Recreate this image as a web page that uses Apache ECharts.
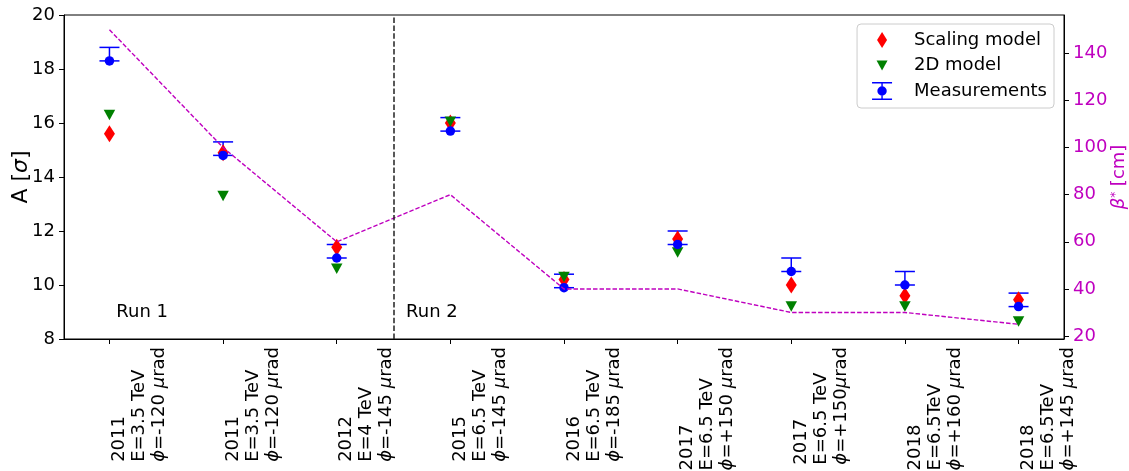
<!DOCTYPE html>
<html>
<head>
<meta charset="utf-8">
<script src="https://cdn.jsdelivr.net/npm/echarts@6/dist/echarts.min.js"></script>
<style>
html,body{margin:0;padding:0;background:#fff;}
#chart{width:1129px;height:471px;}
</style>
</head>
<body>
<div id="chart"></div>
<script>
// ---- data ----
var labelYear   = ['2011','2011','2012','2015','2016','2017','2017','2018','2018'];
var labelEnergy = ['E=3.5 TeV','E=3.5 TeV','E=4 TeV','E=6.5 TeV','E=6.5 TeV','E=6.5 TeV','E=6.5 TeV','E=6.5TeV','E=6.5TeV'];
var labelAngle  = ['=-120 ','=-120 ','=-145 ','=-145 ','=-185 ','=+150 ','=+150','=+160 ','=+145 '];
var scalingModel = [15.6, 14.9, 11.4, 16.0, 10.2, 11.7, 10.0, 9.6, 9.45];
var model2D      = [16.3, 13.3, 10.6, 16.05, 10.3, 11.2, 9.2, 9.2, 8.65];
var measurements = [18.3, 14.8, 11.0, 15.7, 9.9, 11.5, 10.5, 10.0, 9.2];
var errUp        = [0.5, 0.5, 0.5, 0.5, 0.5, 0.5, 0.5, 0.5, 0.5];
var errDown      = [0, 0, 0, 0, 0, 0, 0, 0, 0];
var betaStar     = [150, 100, 60, 80, 40, 40, 30, 30, 25];
var leftTicks    = [8, 10, 12, 14, 16, 18, 20];
var rightTicks   = [20, 40, 60, 80, 100, 120, 140];
var runSplit     = 2.5;
var runLabels    = [['Run 1', 0.06, 9.0], ['Run 2', 2.61, 9.0]];

var FONT = 'DejaVu Sans';
var MAG = '#bf00bf';
var idx = labelYear.map(function (_, i) { return i; });
function pairs(arr) { return arr.map(function (v, i) { return [i, v]; }); }

var tri = 'path://M0,0 L10,0 L5,10 Z';
var legDiamond = 'path://M0,0 M37,18 M10,1 L15,9 L10,17 L5,9 Z';
var legTri = 'path://M0,0 M37,18 M4.5,4 L15.5,4 L10,14 Z';
var legMeas = 'path://M0,0 M37,18 M0,0 L20,0 L20,1.5 L0,1.5 Z M0,16.5 L20,16.5 L20,18 L0,18 Z M9.3,1.5 L10.7,1.5 L10.7,16.5 L9.3,16.5 Z M14.7,9 A4.7,4.7 0 1,1 5.3,9 A4.7,4.7 0 1,1 14.7,9 Z';

var chart = echarts.init(document.getElementById('chart'), null, {renderer: 'canvas'});
var option = {
  animation: false,
  backgroundColor: '#fff',
  textStyle: {fontFamily: FONT},
  grid: {left: 64, right: 65, top: 15, bottom: 132, outerBoundsMode: 'none', containLabel: false,
         show: true, borderColor: '#000', borderWidth: 1, backgroundColor: 'transparent'},
  legend: {
    orient: 'vertical', right: 75, top: 24,
    padding: [7, 7, 8, 15],
    itemWidth: 37, itemHeight: 18, itemGap: 7.5,
    backgroundColor: 'rgba(255,255,255,0.8)', borderColor: '#cccccc', borderWidth: 1, borderRadius: 4,
    textStyle: {fontFamily: FONT, fontSize: 18, color: '#000', lineHeight: 18},
    data: [
      {name: 'Scaling model', icon: legDiamond},
      {name: '2D model', icon: legTri},
      {name: 'Measurements', icon: legMeas}
    ],
    selectedMode: false
  },
  xAxis: {
    type: 'value', min: -0.4, max: 8.4,
    splitLine: {show: false},
    axisLine: {show: true, onZero: false, lineStyle: {color: '#000', width: 1}},
    axisTick: {show: true, length: 5, lineStyle: {color: '#000'}, customValues: idx},
    axisLabel: {
      show: true, rotate: 90, margin: 8, align: 'right', verticalAlign: 'top',
      customValues: idx,
      formatter: function (v) {
        var i = Math.round(v);
        var ang = labelAngle[i];
        return '{t|' + labelYear[i] + '}\n{t|' + labelEnergy[i] + '}\n{i|\u03d5}{t|' + ang + '}{i|\u03bc}{t|rad}';
      },
      rich: {
        t: {fontFamily: FONT, fontSize: 18, color: '#000', align: 'left', lineHeight: 20},
        i: {fontFamily: FONT, fontSize: 18, color: '#000', fontStyle: 'italic', align: 'left', lineHeight: 20}
      }
    }
  },
  yAxis: [{
    type: 'value', min: 8, max: 20, interval: 2, position: 'left',
    splitLine: {show: false},
    axisLine: {show: true, onZero: false, lineStyle: {color: '#000'}},
    axisTick: {show: true, length: 5, lineStyle: {color: '#000'}},
    axisLabel: {fontFamily: FONT, fontSize: 18, color: '#000', margin: 9},
    name: 'A [{i|\u03c3}]', nameLocation: 'middle', nameRotate: 90, nameGap: 32, nameMoveOverlap: false,
    nameTextStyle: {fontFamily: FONT, fontSize: 22, color: '#000',
      rich: {i: {fontFamily: FONT, fontSize: 22, fontStyle: 'italic', color: '#000'}}}
  }, {
    type: 'value', min: 18.75, max: 156.25, position: 'right',
    splitLine: {show: false},
    axisLine: {show: true, onZero: false, lineStyle: {color: '#000'}},
    axisTick: {show: true, length: 5, lineStyle: {color: '#000'}, customValues: rightTicks},
    axisLabel: {fontFamily: FONT, fontSize: 18, color: MAG, margin: 9, customValues: rightTicks},
    name: '{i|\u03b2}{s|*} [cm]', nameLocation: 'middle', nameRotate: 90, nameGap: 46, nameMoveOverlap: false,
    nameTextStyle: {fontFamily: FONT, fontSize: 18, color: MAG,
      rich: {i: {fontFamily: FONT, fontSize: 18, fontStyle: 'italic', color: MAG},
             s: {fontFamily: FONT, fontSize: 12, color: MAG, verticalAlign: 'top'}}}
  }],
  series: [
    {name: 'Scaling model', type: 'scatter', symbol: 'diamond', symbolSize: [11, 17],
     itemStyle: {color: '#ff0000', opacity: 1}, data: pairs(scalingModel)},
    {name: '2D model', type: 'scatter', symbol: tri, symbolSize: [11.5, 10.5],
     itemStyle: {color: '#008000', opacity: 1}, data: pairs(model2D)},
    {name: 'errbars', type: 'custom',
     data: measurements.map(function (v, i) { return [i, v - errDown[i], v + errUp[i]]; }),
     renderItem: function (params, api) {
       var lo = api.coord([api.value(0), api.value(1)]);
       var hi = api.coord([api.value(0), api.value(2)]);
       var w = 10;
       var st = {stroke: '#0000ff', lineWidth: 1.5};
       return {type: 'group', children: [
         {type: 'line', shape: {x1: lo[0], y1: lo[1], x2: hi[0], y2: hi[1]}, style: st},
         {type: 'line', shape: {x1: hi[0] - w, y1: hi[1], x2: hi[0] + w, y2: hi[1]}, style: st},
         {type: 'line', shape: {x1: lo[0] - w, y1: lo[1], x2: lo[0] + w, y2: lo[1]}, style: st}
       ]};
     }},
    {name: 'Measurements', type: 'scatter', symbol: 'circle', symbolSize: 9.5,
     itemStyle: {color: '#0000ff', opacity: 1}, data: pairs(measurements)},
    {name: 'beta', type: 'line', yAxisIndex: 1, symbol: 'none',
     lineStyle: {color: MAG, width: 1.4, type: [4.5, 2]},
     data: pairs(betaStar),
     markLine: {silent: true, symbol: 'none', label: {show: false},
       lineStyle: {color: '#222', width: 1.5, type: [5.5, 2.4]},
       data: [{xAxis: runSplit}]}},
    {name: 'runs', type: 'scatter', symbolSize: 0, silent: true,
     itemStyle: {opacity: 1},
     data: runLabels.map(function (r) { return {value: [r[1], r[2]], name: r[0]}; }),
     label: {show: true, position: [0, 0], align: 'left', verticalAlign: 'middle',
       formatter: function (p) { return p.name; },
       fontFamily: FONT, fontSize: 18, color: '#000', opacity: 1}}
  ]
};
chart.setOption(option);
</script>
</body>
</html>
